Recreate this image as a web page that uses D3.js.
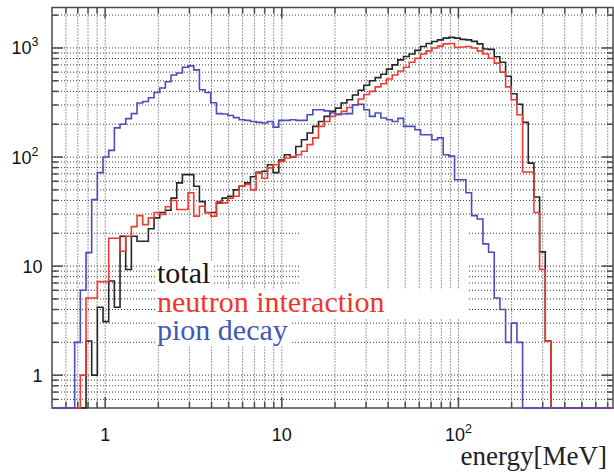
<!DOCTYPE html>
<html>
<head>
<meta charset="utf-8">
<script src="https://cdn.jsdelivr.net/npm/d3@7"></script>
<style>
  html, body { margin: 0; padding: 0; background: #fff; }
  svg { display: block; }
  .serif { font-family: "Liberation Serif", "Times New Roman", Times, serif; }
  .sans { font-family: "Liberation Sans", Arial, Helvetica, sans-serif; }
</style>
</head>
<body>
<svg id="chart" width="614" height="473"></svg>
<script>
// Log-uniform energy binning (MeV)
const binStart = 0.5;
const binLogWidth = 0.0321;

// Counts per bin
const totalCounts = [
  0, 0, 0, 0, 0, 0, 2.06, 1, 4.2, 3.1,
  7.3, 4.2, 18.8, 9.3, 18.8, 16.9, 16.9, 22, 27.7, 31,
  32.5, 42, 58, 69, 69, 54, 39, 31, 31, 38,
  42, 43.7, 50, 54, 58, 66, 72, 74, 85, 72,
  94, 105, 100, 125, 144, 166, 191, 212, 236, 262,
  281, 313, 335, 370, 410, 455, 500, 535, 575, 640,
  700, 778, 834, 880, 950, 1030, 1100, 1146, 1186, 1230,
  1250, 1230, 1200, 1186, 1150, 1090, 980, 970, 830, 740,
  550, 380, 305, 208, 88, 43, 13.5, 2.06, 0, 0,
  0, 0, 0, 0, 0, 0, 0, 0, 0
];
const neutronCounts = [
  0, 0, 0, 0, 0, 1, 5.1, 5.1, 7.2, 7.2,
  18, 18, 13.7, 18.8, 23, 29, 24, 27.7, 31, 29.7,
  35, 40, 33, 33, 47, 28.7, 35.4, 30.8, 28.7, 39,
  38, 42, 43.7, 54, 56, 50, 73, 64, 79.5, 85,
  91, 98, 101, 105, 113, 130, 150, 191, 212, 236,
  244, 262, 285, 300, 340, 375, 400, 440, 470, 520,
  565, 615, 665, 740, 806, 880, 940, 1000, 1040, 1090,
  1100, 1010, 1020, 1030, 1000, 940, 880, 806, 726, 600,
  440, 335, 244, 73, 73, 31, 9.3, 2.06, 0, 0,
  0, 0, 0, 0, 0, 0, 0, 0, 0
];
const pionCounts = [
  0, 0, 0, 0, 2, 6, 13.3, 40.7, 72, 100,
  115, 185, 200, 225, 250, 313, 323, 350, 390, 430,
  490, 565, 590, 665, 685, 630, 414, 390, 315, 250,
  248, 240, 230, 220, 217, 212, 208, 205, 212, 188,
  217, 217, 220, 217, 217, 244, 271, 271, 265, 253,
  248, 248, 250, 302, 305, 271, 236, 253, 228, 220,
  212, 226, 191, 191, 178, 160, 160, 144, 150, 105,
  102, 62, 62, 47, 29, 27, 16, 13.4, 5.1, 4,
  2, 3, 2, 0, 0, 0, 0, 0, 0, 0,
  0, 0, 0, 0, 0, 0, 0, 0, 0
];

const seriesNames = ["total", "neutron interaction", "pion decay"];
const seriesColors = ["#262626", "#f03a30", "#4b4dbb"];
const legendColors = ["#151515", "#f2352b", "#4257b8"];

const xTickValues = [1, 10, 100];
const xTickLabels = ["1", "10", "10^2"];
const yTickValues = [1, 10, 100, 1000];
const yTickLabels = ["1", "10", "10^2", "10^3"];
const xTitle = "energy[MeV]";

const xDomain = [0.5, 750];
const yDomain = [0.5, 2350];

// ---- layout ----
const frame = { left: 52, right: 613, top: 7.5, bottom: 408 };

const svg = d3.select("#chart");
const x = d3.scaleLog().domain(xDomain).range([frame.left, frame.right]);
const y = d3.scaleLog().domain(yDomain).range([frame.bottom, frame.top]);

// minor + major decade subdivisions inside a domain
function logSubdivisions(domain) {
  const out = [];
  const lo = Math.floor(Math.log10(domain[0])), hi = Math.ceil(Math.log10(domain[1]));
  for (let e = lo; e <= hi; e++) {
    for (let m = 1; m <= 9; m++) {
      const v = m * Math.pow(10, e);
      if (v > domain[0] * 1.0001 && v < domain[1] * 0.9999) out.push({ v, major: m === 1 });
    }
  }
  return out;
}
const xGrid = logSubdivisions(xDomain);
const yGrid = logSubdivisions(yDomain);

const gridColor = "#262626";
const gridDash = "1,2";

// horizontal grid lines
svg.append("g").selectAll("line").data(yGrid).join("line")
  .attr("x1", frame.left).attr("x2", frame.right)
  .attr("y1", d => y(d.v)).attr("y2", d => y(d.v))
  .attr("stroke", gridColor).attr("stroke-width", 0.9)
  .attr("stroke-dasharray", gridDash);

// plain backdrop above the legend (horizontal grid suppressed there)
svg.append("rect")
  .attr("x", 300).attr("y", 232).attr("width", 168).attr("height", 58)
  .attr("fill", "#fff");

// vertical grid lines
svg.append("g").selectAll("line").data(xGrid).join("line")
  .attr("x1", d => x(d.v)).attr("x2", d => x(d.v))
  .attr("y1", frame.top).attr("y2", frame.bottom)
  .attr("stroke", gridColor).attr("stroke-width", 0.9)
  .attr("stroke-dasharray", gridDash);

// legend: white boxes behind each entry, then the entry text
const legendX = 157;
const legendBaselines = [283, 311.5, 340];
const legendG = svg.append("g");
const legendTexts = seriesNames.map((name, i) =>
  legendG.append("text")
    .attr("class", "serif")
    .attr("x", legendX).attr("y", legendBaselines[i])
    .attr("font-size", 30)
    .attr("fill", legendColors[i])
    .text(name));
legendTexts.forEach((t, i) => {
  const bb = t.node().getBBox();
  const right = i === 1 ? 468 : bb.x + bb.width + 2;
  legendG.insert("rect", "text")
    .attr("x", bb.x - 2).attr("y", legendBaselines[i] - 22)
    .attr("width", right - bb.x + 2).attr("height", 28.5)
    .attr("fill", "#fff");
});

// frame and ticks
const axisColor = "#4a4a4a";
const axG = svg.append("g").attr("stroke", axisColor).attr("stroke-width", 1.5);
axG.append("rect")
  .attr("x", frame.left).attr("y", frame.top)
  .attr("width", frame.right - frame.left).attr("height", frame.bottom - frame.top)
  .attr("fill", "none");
const majLen = 11, minLen = 6;
yGrid.forEach(d => {
  const len = d.major ? majLen : minLen, yy = y(d.v);
  axG.append("line").attr("x1", frame.left).attr("x2", frame.left + len).attr("y1", yy).attr("y2", yy);
  axG.append("line").attr("x1", frame.right).attr("x2", frame.right - len).attr("y1", yy).attr("y2", yy);
});
xGrid.forEach(d => {
  const len = d.major ? majLen : minLen, xx = x(d.v);
  axG.append("line").attr("x1", xx).attr("x2", xx).attr("y1", frame.bottom).attr("y2", frame.bottom - len);
  axG.append("line").attr("x1", xx).attr("x2", xx).attr("y1", frame.top).attr("y2", frame.top + len);
});

// histograms, drawn over the frame so empty bins run along the bottom edge
svg.append("defs").append("clipPath").attr("id", "plotClip")
  .append("rect")
  .attr("x", frame.left).attr("y", frame.top - 1)
  .attr("width", frame.right - frame.left + 1).attr("height", frame.bottom - frame.top + 2);

function binEdge(i) { return binStart * Math.pow(10, binLogWidth * i); }
const yFloor = yDomain[0];
const stepLine = d3.line()
  .x(d => x(d[0]))
  .y(d => y(Math.max(d[1], yFloor)))
  .curve(d3.curveStepAfter);

const allSeries = [totalCounts, neutronCounts, pionCounts];
const histG = svg.append("g").attr("clip-path", "url(#plotClip)");
allSeries.forEach((counts, s) => {
  const pts = counts.map((v, i) => [binEdge(i), v]);
  pts.push([binEdge(counts.length), counts[counts.length - 1]]);
  histG.append("path")
    .attr("d", stepLine(pts))
    .attr("fill", "none")
    .attr("stroke", seriesColors[s])
    .attr("stroke-width", 1.6)
    .attr("stroke-linejoin", "miter");
});

// tick labels with optional superscript exponent
function addPowerLabel(sel, label) {
  const parts = label.split("^");
  sel.append("tspan").text(parts[0]);
  if (parts.length > 1) {
    sel.append("tspan").attr("font-size", 12.5).attr("dy", -8).text(parts[1]);
  }
}
yTickValues.forEach((v, i) => {
  const hasExp = yTickLabels[i].includes("^");
  const t = svg.append("text")
    .attr("class", "sans")
    .attr("x", hasExp ? 38.5 : 42.5)
    .attr("y", y(v) + 6.5)
    .attr("text-anchor", "end")
    .attr("font-size", 18)
    .attr("fill", "#111");
  addPowerLabel(t, yTickLabels[i]);
});
xTickValues.forEach((v, i) => {
  const t = svg.append("text")
    .attr("class", "sans")
    .attr("x", x(v))
    .attr("y", 441)
    .attr("text-anchor", "middle")
    .attr("font-size", 18)
    .attr("fill", "#111");
  addPowerLabel(t, xTickLabels[i]);
});

// axis title
svg.append("text")
  .attr("class", "serif")
  .attr("x", 607).attr("y", 465)
  .attr("text-anchor", "end")
  .attr("font-size", 27)
  .attr("fill", "#222")
  .text(xTitle);
</script>
</body>
</html>
